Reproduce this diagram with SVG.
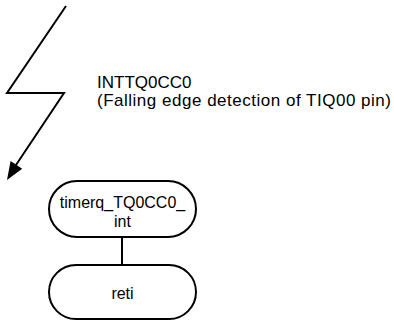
<svg xmlns="http://www.w3.org/2000/svg" width="394" height="322" viewBox="0 0 394 322">
  <style>
    text { font-family: "Liberation Sans", Arial, sans-serif; font-size: 16px; fill: #000; }
    .label { font-size: 17px; }
    .term { fill: #fff; stroke: #000; stroke-width: 2; }
    .line { fill: none; stroke: #000; stroke-width: 2; }
  </style>

  <!-- interrupt trigger: lightning bolt with arrowhead, and its label -->
  <g id="interrupt">
    <path class="line" d="M66,6 L7,93 L64,93 L14,168"/>
    <path d="M7,180 L10.6,160.9 L22.2,168.7 z" fill="#000"/>
    <text class="label" x="97" y="88">INTTQ0CC0</text>
    <text class="label" x="97" y="106" textLength="294" lengthAdjust="spacing">(Falling edge detection of TIQ00 pin)</text>
  </g>

  <g id="connectors">
    <line class="line" x1="122" y1="237" x2="122" y2="265"/>
  </g>

  <g id="handler">
    <rect class="term" x="49" y="181" width="147" height="56" rx="28" ry="28"/>
    <text x="122.5" y="208" text-anchor="middle">timerq_TQ0CC0_</text>
    <text x="122.5" y="227" text-anchor="middle">int</text>
  </g>

  <g id="reti">
    <rect class="term" x="49" y="265" width="147" height="54" rx="27" ry="27"/>
    <text x="122.5" y="299" text-anchor="middle">reti</text>
  </g>
</svg>
